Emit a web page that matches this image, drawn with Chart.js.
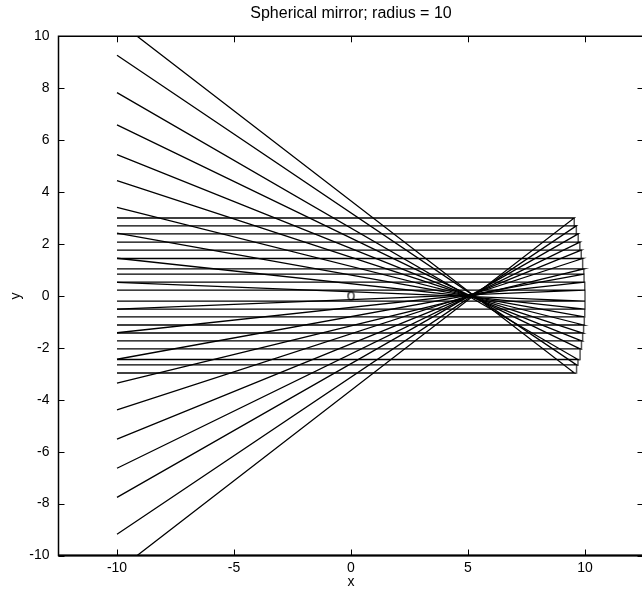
<!DOCTYPE html>
<html>
<head>
<meta charset="utf-8">
<script src="https://cdn.jsdelivr.net/npm/chart.js@4.4.1/dist/chart.umd.min.js"></script>
<style>
  html, body { margin: 0; padding: 0; background: #fff; overflow: hidden; }
  #wrap { width: 652px; height: 589px; }
</style>
</head>
<body>
<div id="wrap"><canvas id="chart"></canvas></div>
<script>
// incoming ray heights (top to bottom), where each meets the mirror,
// and where its reflection reaches x = -10
var rayY    = [3.00, 2.70, 2.39, 2.07, 1.76, 1.44, 1.04, 0.84, 0.53, 0.22,
               -0.20, -0.51, -0.81, -1.12, -1.43, -1.73, -2.04, -2.45, -2.66, -2.97];
var mirrorX = [9.54, 9.63, 9.71, 9.78, 9.84, 9.90, 9.95, 9.96, 9.99, 10.0,
               10.0, 9.99, 9.97, 9.94, 9.90, 9.85, 9.79, 9.70, 9.64, 9.55];
var exitY   = [-10.6, -9.18, -7.76, -6.64, -5.52, -4.39, -3.36, -2.44, -1.42, -0.51,
               0.52, 1.45, 2.42, 3.41, 4.44, 5.44, 6.59, 7.83, 9.27, 10.6];
var startX = -10;
var centre = { x: 0, y: 0 };

var xTicks = [-10, -5, 0, 5, 10];
var yTicks = [-10, -8, -6, -4, -2, 0, 2, 4, 6, 8, 10];

Chart.defaults.font.family = "'Liberation Sans', Arial, sans-serif";
Chart.defaults.color = '#000';

// small 'o' marker like the original
var ring = document.createElement('canvas');
ring.width = 9;
ring.height = 11;
(function () {
    var c = ring.getContext('2d');
    c.strokeStyle = '#000';
    c.lineWidth = 1.2;
    c.beginPath();
    c.ellipse(4.5, 5.5, 3, 4, 0, 0, Math.PI * 2);
    c.stroke();
})();

var datasets = [];
rayY.forEach(function (y, i) {
    datasets.push({
        data: [
            { x: startX, y: y },
            { x: mirrorX[i], y: y },
            { x: startX, y: exitY[i] }
        ],
        showLine: true,
        borderColor: '#000',
        borderWidth: 1.3,
        pointRadius: 0
    });
});

datasets.push({
    data: mirrorX.map(function (x, i) { return { x: x, y: rayY[i] }; }),
    showLine: true,
    stepped: 'after',
    borderColor: '#555',
    borderWidth: 1.5,
    pointRadius: 0
});

datasets.push({
    data: [centre],
    pointStyle: ring,
    pointRadius: 4
});

// MATLAB style box with inward ticks
var frame = {
    id: 'frame',
    afterDatasetsDraw: function (chart) {
        var ctx = chart.ctx, a = chart.chartArea;
        var xs = chart.scales.x, ys = chart.scales.y;
        ctx.save();
        ctx.strokeStyle = '#000';
        ctx.lineWidth = 1;
        ctx.beginPath();
        xTicks.forEach(function (v) {
            var px = Math.round(xs.getPixelForValue(v)) + 0.5;
            ctx.moveTo(px, a.bottom);
            ctx.lineTo(px, a.bottom - 6);
            ctx.moveTo(px, a.top);
            ctx.lineTo(px, a.top + 6);
        });
        yTicks.forEach(function (v) {
            var py = Math.round(ys.getPixelForValue(v)) + 0.5;
            ctx.moveTo(a.left, py);
            ctx.lineTo(a.left + 6, py);
            ctx.moveTo(a.right, py);
            ctx.lineTo(a.right - 6, py);
        });
        ctx.stroke();
        ctx.lineWidth = 1.5;
        ctx.beginPath();
        ctx.rect(a.left, a.top, a.right - a.left, a.bottom - a.top);
        ctx.stroke();
        ctx.lineWidth = 2;
        ctx.beginPath();
        ctx.moveTo(a.left, a.bottom);
        ctx.lineTo(a.right, a.bottom);
        ctx.stroke();
        ctx.restore();
    }
};

new Chart(document.getElementById('chart'), {
    type: 'scatter',
    data: { datasets: datasets },
    plugins: [frame],
    options: {
        responsive: true,
        maintainAspectRatio: false,
        animation: false,
        events: [],
        layout: { padding: { right: 8.5 } },
        plugins: {
            legend: { display: false },
            tooltip: { enabled: false },
            title: {
                display: true,
                text: 'Spherical mirror; radius = 10',
                fullSize: false,
                font: { size: 16, weight: 'normal' },
                color: '#000',
                padding: { top: 3.5, bottom: 13.6 }
            }
        },
        scales: {
            x: {
                type: 'linear',
                min: -12.5,
                max: 12.5,
                afterBuildTicks: function (s) { s.ticks = xTicks.map(function (v) { return { value: v }; }); },
                afterFit: function (s) { s.height = 33.5; },
                grid: { display: false, drawTicks: false },
                border: { display: false },
                ticks: { font: { size: 14 }, padding: 4, maxRotation: 0 },
                title: { display: true, text: 'x', font: { size: 14, lineHeight: 1 }, padding: 0 }
            },
            y: {
                type: 'linear',
                min: -10,
                max: 10,
                afterBuildTicks: function (s) { s.ticks = yTicks.map(function (v) { return { value: v }; }); },
                afterFit: function (s) { s.width = 58.5; },
                grid: { display: false, drawTicks: false },
                border: { display: false },
                ticks: { font: { size: 14 }, padding: 9 },
                title: { display: true, text: 'y', font: { size: 14 }, padding: { top: 8, bottom: 0 } }
            }
        }
    }
});
</script>
</body>
</html>
